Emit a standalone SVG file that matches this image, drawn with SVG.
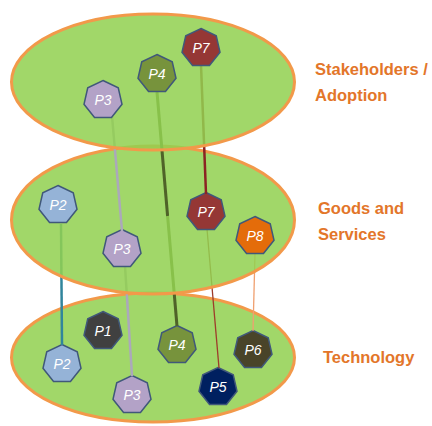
<svg xmlns="http://www.w3.org/2000/svg" xmlns:xlink="http://www.w3.org/1999/xlink" width="432" height="426" viewBox="0 0 432 426">
<style>
.layer{fill:#92d050;fill-opacity:0.86;stroke:#f2994a;stroke-width:3}
.node use{stroke:#40587a;stroke-width:1.5}
.ntxt{font-family:"Liberation Sans",Arial,sans-serif;font-style:italic;font-size:14px;fill:#ffffff;text-anchor:middle}
.lbl{font-family:"Liberation Sans",Arial,sans-serif;font-weight:bold;font-size:16.5px;fill:#e3762a}
.connectors line{fill:none;stroke-linecap:butt}
</style>
<defs>
<polygon id="hept" points="0,-19.5 15.25,-12.16 19.01,4.34 8.46,17.57 -8.46,17.57 -19.01,4.34 -15.25,-12.16"/>
</defs>
<rect width="432" height="426" fill="#ffffff"/>

<!-- Technology layer -->
<ellipse id="layer-technology" class="layer" cx="153" cy="357.5" rx="141.5" ry="64.5"/>
<g id="tech-P1" class="node"><use xlink:href="#hept" x="103" y="331" fill="#404040"/><text class="ntxt" x="103" y="336">P1</text></g>
<g id="tech-P2" class="node"><use xlink:href="#hept" x="62" y="364" fill="#95b3d7"/><text class="ntxt" x="62" y="369">P2</text></g>
<g id="tech-P3" class="node"><use xlink:href="#hept" x="132" y="395" fill="#b3a2c7"/><text class="ntxt" x="132" y="400">P3</text></g>
<g id="tech-P4" class="node"><use xlink:href="#hept" x="177" y="345" fill="#77933c"/><text class="ntxt" x="177" y="350">P4</text></g>
<g id="tech-P5" class="node"><use xlink:href="#hept" x="218" y="387" fill="#002060"/><text class="ntxt" x="218" y="392">P5</text></g>
<g id="tech-P6" class="node"><use xlink:href="#hept" x="253" y="350" fill="#494429"/><text class="ntxt" x="253" y="355">P6</text></g>

<g id="connectors-lower" class="connectors">
<line x1="61" y1="224" x2="62" y2="345" stroke="#31859c" stroke-width="2.5"/>
<line x1="125" y1="266" x2="132" y2="376" stroke="#aba8bb" stroke-width="2.5"/>
<line x1="167.6" y1="216" x2="177" y2="326" stroke="#4f6228" stroke-width="3"/>
<line x1="207" y1="229" x2="219" y2="368" stroke="#9e3b2a" stroke-width="1.3"/>
<line x1="255" y1="253" x2="253" y2="331" stroke="#f0a070" stroke-width="1.3"/>
</g>

<!-- Goods and Services layer -->
<ellipse id="layer-goods" class="layer" cx="153" cy="220" rx="141.5" ry="74"/>
<g id="goods-P2" class="node"><use xlink:href="#hept" x="58" y="205" fill="#95b3d7"/><text class="ntxt" x="58" y="210">P2</text></g>
<g id="goods-P3" class="node"><use xlink:href="#hept" x="122" y="249" fill="#b3a2c7"/><text class="ntxt" x="122" y="254">P3</text></g>
<g id="goods-P7" class="node"><use xlink:href="#hept" x="206" y="212" fill="#953735"/><text class="ntxt" x="206" y="217">P7</text></g>
<g id="goods-P8" class="node"><use xlink:href="#hept" x="255" y="236" fill="#e46c0a"/><text class="ntxt" x="255" y="241">P8</text></g>

<g id="connectors-upper" class="connectors">
<line x1="112" y1="116" x2="122" y2="231" stroke="#aba8bb" stroke-width="2.5"/>
<line x1="157" y1="92" x2="167.6" y2="216" stroke="#4f6228" stroke-width="3"/>
<line x1="201" y1="65" x2="206" y2="194" stroke="#8b2323" stroke-width="2.5"/>
</g>

<!-- Stakeholders / Adoption layer -->
<ellipse id="layer-stakeholders" class="layer" cx="153" cy="82" rx="141.5" ry="68"/>
<g id="stake-P3" class="node"><use xlink:href="#hept" x="103" y="100" fill="#b3a2c7"/><text class="ntxt" x="103" y="105">P3</text></g>
<g id="stake-P4" class="node"><use xlink:href="#hept" x="157" y="74" fill="#77933c"/><text class="ntxt" x="157" y="79">P4</text></g>
<g id="stake-P7" class="node"><use xlink:href="#hept" x="201" y="48" fill="#953735"/><text class="ntxt" x="201" y="53">P7</text></g>

<g id="labels">
<text class="lbl" x="315" y="75">Stakeholders /</text>
<text class="lbl" x="315" y="101">Adoption</text>
<text class="lbl" x="318" y="214">Goods and</text>
<text class="lbl" x="318" y="240">Services</text>
<text class="lbl" x="323" y="363">Technology</text>
</g>
</svg>
